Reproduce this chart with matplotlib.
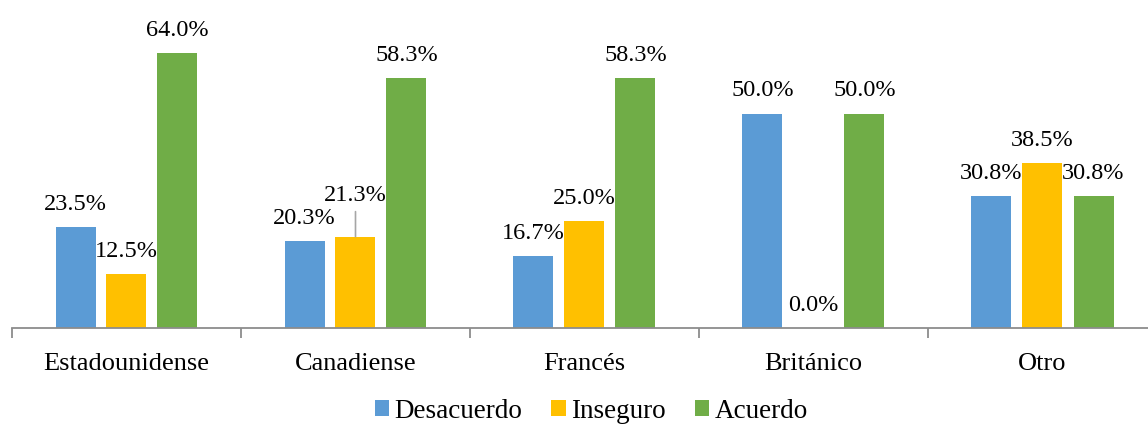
import matplotlib
matplotlib.use("Agg")
import matplotlib.pyplot as plt
import numpy as np

categories = ["Estadounidense", "Canadiense", "Francés", "Británico", "Otro"]
series_names = ["Desacuerdo", "Inseguro", "Acuerdo"]
desacuerdo = [23.5, 20.3, 16.7, 50.0, 30.8]
inseguro = [12.5, 21.3, 25.0, 0.0, 38.5]
acuerdo = [64.0, 58.3, 58.3, 50.0, 30.8]
colors = ["#5B9BD5", "#FFC000", "#70AD47"]

plt.rcParams['font.family'] = ['Liberation Serif', 'DejaVu Serif']

W, H = 1148, 426
fig = plt.figure(figsize=(W / 100, H / 100), dpi=100)
ax = fig.add_axes([12 / W, 98 / H, 1145 / W, 328 / H])

x = np.arange(len(categories))
step = 51 / 229
width = 40 / 229
data = [desacuerdo, inseguro, acuerdo]
for k, (vals, name, col) in enumerate(zip(data, series_names, colors)):
    xs = x + (k - 1) * step
    ax.bar(xs, vals, width=width, color=col, label=name, zorder=2)
    for i, (xi, v) in enumerate(zip(xs, vals)):
        lifted = (k == 1 and i == 1)
        dy = 36 if lifted else 17
        ax.annotate(f"{v:.1f}%", xy=(xi, v), xytext=(0, dy),
                    textcoords='offset pixels', ha='center', va='baseline',
                    fontsize=17.5, color='#000000')
        if lifted:
            ax.annotate('', xy=(xi, v), xytext=(0, 25), textcoords='offset pixels',
                        arrowprops=dict(arrowstyle='-', color='#a6a6a6', lw=1.2,
                                        shrinkA=0, shrinkB=0))

ax.set_xlim(-0.5, len(categories) - 0.5)
ax.set_ylim(0, 328 / 4.29)
for s in ['top', 'right', 'left']:
    ax.spines[s].set_visible(False)
ax.spines['bottom'].set_color('#8c8c8c')
ax.spines['bottom'].set_linewidth(1.3)
ax.set_yticks([])
ax.set_xticks(x)
ax.set_xticklabels(categories, fontsize=19)
ax.tick_params(axis='x', which='major', length=0, pad=18)
ax.set_xticks(np.arange(-0.5, len(categories) + 0.5, 1), minor=True)
ax.tick_params(axis='x', which='minor', length=7, color='#8c8c8c', width=1.3)

handles, labels = ax.get_legend_handles_labels()
fig.legend(handles, labels, loc='center', bbox_to_anchor=(591.5 / W, 1 - 411 / H),
           ncol=3, frameon=False, fontsize=19.5, handlelength=0.52, handleheight=0.52,
           handletextpad=0.22, columnspacing=1.07, borderpad=0, borderaxespad=0)

fig.savefig("out.png", dpi=100)
